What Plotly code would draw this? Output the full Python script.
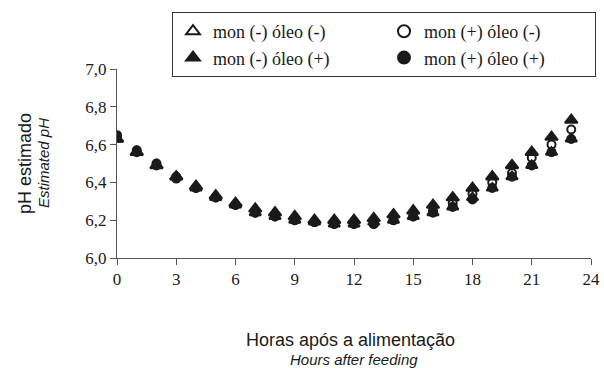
import plotly.graph_objects as go

hours = list(range(24))
x_ticks = [0, 3, 6, 9, 12, 15, 18, 21, 24]
y_ticks = [6.0, 6.2, 6.4, 6.6, 6.8, 7.0]

names = ["mon (-) óleo (-)", "mon (+) óleo (-)", "mon (-) óleo (+)", "mon (+) óleo (+)"]

mon_neg_oleo_neg = [6.63, 6.56, 6.49, 6.43, 6.37, 6.32, 6.28, 6.24, 6.22, 6.20, 6.19, 6.18,
                    6.18, 6.19, 6.20, 6.22, 6.24, 6.27, 6.32, 6.37, 6.43, 6.49, 6.56, 6.63]
mon_pos_oleo_neg = [6.65, 6.57, 6.50, 6.43, 6.37, 6.32, 6.28, 6.24, 6.22, 6.20, 6.19, 6.18,
                    6.18, 6.18, 6.20, 6.22, 6.25, 6.29, 6.34, 6.40, 6.45, 6.53, 6.60, 6.68]
mon_neg_oleo_pos = [6.63, 6.56, 6.49, 6.43, 6.38, 6.33, 6.29, 6.26, 6.24, 6.22, 6.20, 6.20,
                    6.20, 6.21, 6.23, 6.25, 6.28, 6.32, 6.37, 6.43, 6.49, 6.56, 6.64, 6.73]
mon_pos_oleo_pos = [6.64, 6.56, 6.49, 6.42, 6.37, 6.32, 6.28, 6.24, 6.22, 6.20, 6.19, 6.18,
                    6.18, 6.18, 6.20, 6.22, 6.24, 6.27, 6.31, 6.37, 6.43, 6.49, 6.56, 6.63]

series = [mon_neg_oleo_neg, mon_pos_oleo_neg, mon_neg_oleo_pos, mon_pos_oleo_pos]
symbols = ["triangle-up-open", "circle-open", "triangle-up", "circle"]
sizes = [10, 8, 11, 8]

ink = "#1a1a1a"
fig = go.Figure()
for name, vals, sym, sz in zip(names, series, symbols, sizes):
    fig.add_trace(go.Scatter(
        x=hours, y=vals, mode="markers", name=name,
        marker=dict(symbol=sym, size=sz, color=ink, line=dict(color=ink, width=2)),
    ))

serif = "Liberation Serif"
sans = "Liberation Sans"

fig.update_layout(
    width=604, height=368,
    margin=dict(l=117, r=13, t=69, b=110, autoexpand=False),
    paper_bgcolor="white", plot_bgcolor="white",
    separators=",.",
    showlegend=True,
    legend=dict(
        orientation="h", xref="container", yref="container",
        x=172 / 604, y=1 - 12 / 368, xanchor="left", yanchor="top",
        entrywidth=166, entrywidthmode="pixels",
        font=dict(family=serif, size=18, color=ink),
        bordercolor="#333333", borderwidth=1, bgcolor="white",
        itemsizing="constant", tracegroupgap=0,
    ),
    xaxis=dict(
        range=[0, 24], tickvals=x_ticks, ticktext=[str(v) for v in x_ticks],
        showline=True, linecolor="#555555", linewidth=1, mirror=False,
        ticks="outside", ticklen=6, tickcolor="#555555",
        showgrid=False, zeroline=False, automargin=False,
        tickfont=dict(family=serif, size=17, color=ink),
    ),
    yaxis=dict(
        range=[6.0, 7.0], tickvals=y_ticks, tickformat=".1f",
        showline=True, linecolor="#555555", linewidth=1,
        ticks="outside", ticklen=6, tickcolor="#555555",
        showgrid=False, zeroline=False, automargin=False,
        tickfont=dict(family=serif, size=17, color=ink),
    ),
    annotations=[
        dict(text="pH estimado", xref="paper", yref="paper", x=-0.195, y=0.5,
             textangle=-90, showarrow=False, xanchor="center", yanchor="middle",
             font=dict(family=sans, size=18, color=ink)),
        dict(text="<i>Estimated pH</i>", xref="paper", yref="paper", x=-0.155, y=0.5,
             textangle=-90, showarrow=False, xanchor="center", yanchor="middle",
             font=dict(family=sans, size=15, color=ink)),
        dict(text="Horas após a alimentação", xref="paper", yref="paper", x=0.4916, y=-0.434,
             showarrow=False, xanchor="center", yanchor="middle",
             font=dict(family=sans, size=18, color=ink)),
        dict(text="<i>Hours after feeding</i>", xref="paper", yref="paper", x=0.5, y=-0.535,
             showarrow=False, xanchor="center", yanchor="middle",
             font=dict(family=sans, size=15, color=ink)),
    ],
)

fig.write_html("out.html", config={"displayModeBar": False},
               post_script="document.body.style.margin='0px';document.body.style.padding='0px';")
